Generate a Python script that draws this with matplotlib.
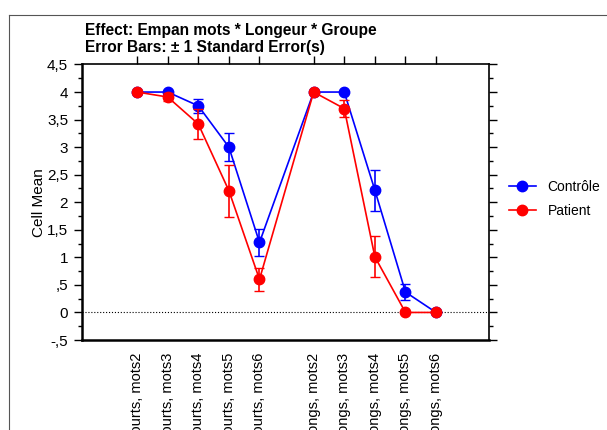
import numpy as np
import matplotlib
matplotlib.use('Agg')
import matplotlib.pyplot as plt
from matplotlib.lines import Line2D

plt.rcParams['font.family'] = ['Liberation Sans', 'DejaVu Sans']

# ==================== Data ====================
categories = ['Courts, mots2', 'Courts, mots3', 'Courts, mots4', 'Courts, mots5', 'Courts, mots6',
              'Longs, mots2', 'Longs, mots3', 'Longs, mots4', 'Longs, mots5', 'Longs, mots6']
x_pos = [0, 1, 2, 3, 4, 5.77, 6.77, 7.77, 8.77, 9.77]

controle_mean = [4.0, 4.0, 3.75, 3.0, 1.27, 4.0, 4.0, 2.22, 0.37, 0.0]
controle_se = [0.0, 0.0, 0.13, 0.25, 0.24, 0.0, 0.0, 0.37, 0.14, 0.0]
patient_mean = [4.0, 3.91, 3.42, 2.21, 0.60, 4.0, 3.70, 1.01, 0.0, 0.0]
patient_se = [0.0, 0.07, 0.27, 0.47, 0.21, 0.0, 0.15, 0.37, 0.0, 0.0]

y_ticks = [-0.5, 0, 0.5, 1, 1.5, 2, 2.5, 3, 3.5, 4, 4.5]
y_ticklabels = ['-,5', '0', ',5', '1', '1,5', '2', '2,5', '3', '3,5', '4', '4,5']

BLUE = '#0000ff'
RED = '#ff0000'
MS = 7.5

# ==================== Figure ====================
fig = plt.figure(figsize=(6.07, 4.30), dpi=100)
ax = fig.add_axes([82 / 607, 1 - 340 / 430, (489 - 82) / 607, (340 - 64.5) / 430])

ax.axhline(0, color='black', linestyle=':', linewidth=0.8, zorder=1)

# each group drawn with its error bars, then the two groups joined
for mean, se, col, z in [(controle_mean, controle_se, BLUE, 3),
                         (patient_mean, patient_se, RED, 4)]:
    ax.errorbar(x_pos[:5], mean[:5], yerr=se[:5], color=col, marker='o', markersize=MS,
                linewidth=1.2, capsize=3.5, elinewidth=1.2, zorder=z)
    ax.errorbar(x_pos[5:], mean[5:], yerr=se[5:], color=col, marker='o', markersize=MS,
                linewidth=1.2, capsize=3.5, elinewidth=1.2, zorder=z)
    ax.plot(x_pos[4:6], mean[4:6], color=col, linewidth=1.2, zorder=z)

ax.set_xlim(-1.8, 11.5)
ax.set_ylim(-0.5, 4.5)

ax.set_yticks(y_ticks)
ax.set_yticklabels(y_ticklabels, fontsize=11)
ax.set_yticks(np.arange(-0.25, 4.5, 0.5), minor=True)
ax.set_xticks(x_pos)
ax.set_xticklabels(categories, rotation=90, fontsize=10.5)

ax.tick_params(axis='y', which='major', direction='out', length=6, width=1, pad=4,
               right=True, left=True)
ax.tick_params(axis='y', which='minor', direction='out', length=3, width=1,
               right=True, left=True)
ax.tick_params(axis='x', which='major', direction='out', length=6, width=1, pad=3,
               top=True, bottom=False)

for side in ['left', 'bottom']:
    ax.spines[side].set_linewidth(1.8)
for side in ['top', 'right']:
    ax.spines[side].set_linewidth(1.2)

ax.set_ylabel('Cell Mean', fontsize=11, labelpad=1)

fig.text(85 / 607, 1 - 30 / 430, 'Effect: Empan mots * Longeur * Groupe',
         fontsize=11.2, fontweight='bold', va='center', ha='left')
fig.text(85 / 607, 1 - 47.5 / 430, 'Error Bars: \u00b1 1 Standard Error(s)',
         fontsize=11.2, fontweight='bold', va='center', ha='left')

handles = [Line2D([], [], color=BLUE, marker='o', markersize=MS, linewidth=1.2),
           Line2D([], [], color=RED, marker='o', markersize=MS, linewidth=1.2)]
fig.legend(handles, ['Contrôle', 'Patient'], loc='center left',
           bbox_to_anchor=(496 / 607, 1 - 199 / 430), frameon=False, fontsize=10,
           handlelength=2.0, handletextpad=0.8, labelspacing=0.75)

# thin frame around the chart region
fig.add_artist(Line2D([9 / 607, 9 / 607], [0, 1 - 15 / 430], color='#555555', linewidth=0.8))
fig.add_artist(Line2D([9 / 607, 1], [1 - 15 / 430, 1 - 15 / 430], color='#555555', linewidth=0.8))

fig.savefig('out.png', dpi=100)
